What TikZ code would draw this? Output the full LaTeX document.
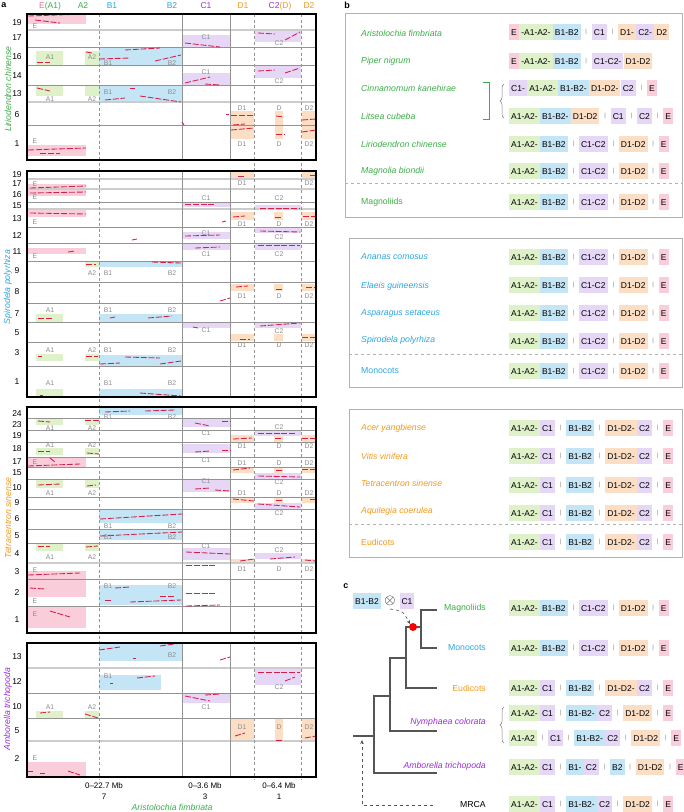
\documentclass[tikz,border=0pt]{standalone}
\usepackage{fontspec}
\setmainfont{Liberation Sans}
\usetikzlibrary{decorations.pathreplacing,arrows.meta}
\definecolor{pk}{RGB}{250,205,218}
\definecolor{gr}{RGB}{222,241,200}
\definecolor{bl}{RGB}{196,229,246}
\definecolor{pu}{RGB}{231,215,247}
\definecolor{og}{RGB}{251,222,196}
\definecolor{tgr}{RGB}{61,174,72}
\definecolor{tbl}{RGB}{43,168,224}
\definecolor{tog}{RGB}{243,154,30}
\definecolor{tpu}{RGB}{154,47,216}
\definecolor{tpk}{RGB}{240,108,150}
\definecolor{syn}{RGB}{214,30,70}
\definecolor{lbl}{RGB}{140,140,140}
\definecolor{trc}{RGB}{85,85,85}
\newcommand\myfs[1]{\fontsize{#1}{#1}\selectfont}
\newcounter{nn}
\newcommand\tx[3][]{\stepcounter{nn}\node[#1] (t\thenn) at (#2) {#3};}
\newcommand\chs[1]{\coordinate (cur) at (#1);}
\newcommand\sg[2]{\node[seg,fill=#1,anchor=west] (cur) at (cur.east) {#2};}
\newcommand\sepr{\node[sepn,anchor=west] (cur) at (cur.east) {|};}
\newcommand\chM{\sg{gr}{A1-A2-}\sg{bl}{B1-B2}\sepr\sg{pu}{C1-C2}\sepr\sg{og}{D1-D2}\sepr\sg{pk}{E}}
\newcommand\chU{\sg{gr}{A1-A2-}\sg{pu}{C1}\sepr\sg{bl}{B1-B2}\sepr\sg{og}{D1-D2-}\sg{pu}{C2}\sepr\sg{pk}{E}}
\newcommand\chN{\sg{gr}{A1-A2-}\sg{pu}{C1}\sepr\sg{bl}{B1-B2-}\sg{pu}{C2}\sepr\sg{og}{D1-D2}\sepr\sg{pk}{E}}
\begin{document}
\begin{tikzpicture}[x=1pt,y=-1pt,
  lab/.style={font=\myfs{6.8}, text=lbl, inner sep=0pt},
  rl/.style={font=\myfs{8.5}, inner sep=0pt},
  hd/.style={font=\myfs{8.5}, inner sep=0pt},
  frm/.style={draw=black, line width=1.1pt},
  rowl/.style={draw=gray!85, line width=0.7pt},
  rowt/.style={draw=gray!40, line width=1.8pt},
  vd/.style={draw=gray!85, dash pattern=on 3pt off 2.5pt, line width=0.7pt},
  vs/.style={draw=gray!85, line width=0.7pt},
  sy/.style={draw=syn, line width=0.85pt, dash pattern=on 6pt off 1.8pt},
  seg/.style={font=\myfs{8.5}, inner xsep=2pt, inner ysep=0pt, minimum height=16pt, text height=6.3pt, text depth=0pt},
  sepn/.style={font=\myfs{6}, text=gray, inner xsep=4.5pt, inner ysep=0pt, minimum height=16pt},
  spn/.style={font=\myfs{8.7}\itshape, anchor=west, inner sep=0pt},
  cln/.style={font=\myfs{8.7}, anchor=west, inner sep=0pt},
  tree/.style={draw=trc, line width=1.3pt},
  bxf/.style={draw=gray!60, line width=0.8pt},
  bxd/.style={draw=gray!60, dashed, line width=0.7pt}]
\fill[white] (0,0) rectangle (684,812);
\useasboundingbox (0,0) rectangle (684,812);
% ================= panel a =================
\tx[font=\myfs{9}\bfseries]{4,5}{a}
\tx[hd]{50,6}{\textcolor{tpk}{E}\textcolor{tgr}{(A1)}}
\tx[hd,text=tgr]{83,6}{A2}
\tx[hd,text=tbl]{112,6}{B1}
\tx[hd,text=tbl]{172,6}{B2}
\tx[hd,text=tpu]{206,6}{C1}
\tx[hd,text=tog]{243,6}{D1}
\tx[hd]{280,6}{\textcolor{tpu}{C2}\textcolor{tog}{(D)}}
\tx[hd,text=tog]{309,6}{D2}
% coloured boxes, block 1
\fill[pk] (27,14) rectangle (86,24);
\fill[pu] (182,35) rectangle (230,47);
\fill[pu] (255,31) rectangle (301,42);
\fill[gr] (36,51) rectangle (63,65);
\fill[gr] (85,51) rectangle (99,65);
\fill[bl] (99,47) rectangle (182,65);
\fill[pu] (182,73) rectangle (230,85);
\fill[pu] (255,66) rectangle (301,78);
\fill[gr] (36,86) rectangle (63,96);
\fill[gr] (85,86) rectangle (99,96);
\fill[bl] (99,85) rectangle (182,102);
\fill[og] (231,111) rectangle (254,139);
\fill[og] (275,111) rectangle (283,139);
\fill[og] (302,111) rectangle (316,139);
\fill[pk] (27,145) rectangle (86,156);
% block 2
\fill[og] (231,171) rectangle (254,179);
\fill[og] (302,171) rectangle (316,179);
\fill[pk] (27,184) rectangle (86,189);
\fill[pk] (27,190) rectangle (86,196);
\fill[pu] (182,202) rectangle (230,207);
\fill[pu] (255,205) rectangle (301,209);
\fill[pk] (27,210) rectangle (86,217);
\fill[og] (231,212) rectangle (254,220);
\fill[og] (274,212) rectangle (283,220);
\fill[og] (302,212) rectangle (316,220);
\fill[pu] (182,232) rectangle (230,239);
\fill[pu] (255,228) rectangle (301,233);
\fill[pu] (182,244) rectangle (230,250);
\fill[pu] (255,244) rectangle (301,250);
\fill[pk] (27,248) rectangle (86,254);
\fill[gr] (85,262) rectangle (99,267);
\fill[bl] (99,261) rectangle (182,267);
\fill[og] (231,284) rectangle (254,291);
\fill[og] (274,284) rectangle (283,291);
\fill[og] (302,284) rectangle (316,291);
\fill[gr] (36,314) rectangle (63,322);
\fill[bl] (99,314) rectangle (182,322);
\fill[pu] (182,323) rectangle (230,328);
\fill[pu] (255,322) rectangle (301,328);
\fill[og] (231,334) rectangle (254,341);
\fill[og] (274,334) rectangle (283,341);
\fill[og] (302,334) rectangle (316,341);
\fill[gr] (36,354) rectangle (63,361);
\fill[gr] (85,354) rectangle (99,361);
\fill[bl] (99,355) rectangle (182,366);
\fill[gr] (36,389) rectangle (63,397);
\fill[bl] (99,389) rectangle (182,397);
% block 3
\fill[bl] (99,407) rectangle (182,415);
\fill[gr] (36,418) rectangle (63,425);
\fill[gr] (85,418) rectangle (99,425);
\fill[pu] (182,418) rectangle (230,427);
\fill[pu] (255,431) rectangle (301,436);
\fill[og] (231,435) rectangle (254,442);
\fill[og] (274,435) rectangle (283,442);
\fill[og] (302,435) rectangle (316,442);
\fill[gr] (36,448) rectangle (63,455);
\fill[gr] (85,448) rectangle (99,455);
\fill[pu] (182,444) rectangle (230,453);
\fill[pk] (27,457) rectangle (86,467);
\fill[og] (231,467) rectangle (254,473);
\fill[og] (274,467) rectangle (283,473);
\fill[og] (302,467) rectangle (316,473);
\fill[pu] (255,473) rectangle (301,479);
\fill[gr] (36,480) rectangle (63,488);
\fill[gr] (85,480) rectangle (99,488);
\fill[pu] (182,480) rectangle (230,492);
\fill[og] (231,497) rectangle (254,503);
\fill[og] (274,497) rectangle (283,503);
\fill[og] (302,497) rectangle (316,503);
\fill[pu] (255,503) rectangle (301,509);
\fill[bl] (99,509) rectangle (182,523);
\fill[bl] (99,529) rectangle (182,540);
\fill[gr] (36,543) rectangle (63,551);
\fill[gr] (85,543) rectangle (99,551);
\fill[pu] (182,548) rectangle (230,560);
\fill[pu] (255,553) rectangle (301,559);
\fill[og] (231,559) rectangle (254,563);
\fill[og] (302,559) rectangle (316,563);
\fill[pk] (27,571) rectangle (86,597);
\fill[bl] (99,585) rectangle (182,605);
\fill[pk] (27,606) rectangle (86,628);
% block 4
\fill[bl] (99,643) rectangle (182,661);
\fill[bl] (99,675) rectangle (161,690);
\fill[pu] (255,669) rectangle (301,685);
\fill[pu] (182,694) rectangle (230,703);
\fill[gr] (36,711) rectangle (63,718);
\fill[gr] (85,711) rectangle (99,718);
\fill[og] (231,718) rectangle (254,741);
\fill[og] (275,718) rectangle (283,741);
\fill[og] (302,718) rectangle (316,741);
\fill[pk] (27,762) rectangle (86,776);
% row lines
\foreach \yy in {47,65,85,125,202,227,243,261,282,303,322,342,366,418,430,442,457,467,479,497,509,529,543,579,606,693,718}
  \draw[rowl] (27,\yy) -- (316,\yy);
\foreach \yy in {30,102,179,189,209,563,668,741}
  \draw[rowt] (27,\yy) -- (316,\yy);
% vertical lines
\foreach \xx in {99,254,301} \draw[vd] (\xx,14) -- (\xx,779);
\foreach \a/\b in {14/160,171/397,407/633,643/777} {
  \draw[vs] (182,\a) -- (182,\b);
  \draw[vs] (230,\a) -- (230,\b);
}
% synteny dashes
\foreach \a/\b/\c/\d in {
 28/16/86/14, 35/20/60/23,
 185/43/220/47, 258/33/275/34, 285/40/300/32,
 37/62/50/62, 86/52/92/53, 99/59/130/58, 125/50/160/48, 155/61/181/55,
 185/83/210/77, 205/84/220/85, 258/71/275/70, 285/73/300/68,
 37/88/50/91, 105/100/125/98, 130/88/135/88, 140/96/181/102,
 231/115/254/115, 231/130/254/128, 233/125/245/124, 276/116/284/117, 276/134/284/134,
 302/120/316/119, 302/132/316/130, 182/122/184/125, 226/114/229/114,
 28/150/86/148, 40/153/60/153,
 238/176/245/176, 310/175/316/175,
 30/188/86/186, 30/193/86/192,
 185/204/215/204, 260/208/300/208,
 30/213/86/214, 233/217/245/216, 275/217/282/217, 303/216/316/216, 222/222/226/221,
 185/236/220/235, 260/231/300/232, 132/240/137/239,
 195/248/220/247, 258/245/300/245, 68/252/75/251,
 86/264/96/264, 152/262/181/263,
 236/287/248/286, 276/289/282/289, 306/287/316/287, 220/301/230/298,
 38/318/52/318, 110/318/115/317, 148/318/172/316,
 193/327/198/328, 260/326/300/323, 240/339/250/339, 302/337/316/337,
 38/356/42/356, 86/356/98/356, 100/364/120/363, 125/357/160/358, 160/364/181/361,
 40/395/43/395, 140/393/181/396,
 105/412/130/411, 145/411/175/410,
 38/421/50/422, 85/420/99/420, 195/423/210/426, 222/421/230/421,
 233/439/252/438, 258/433/295/433, 275/438/282/438, 302/438/316/438,
 38/451/50/451, 87/453/99/454, 195/452/210/451, 222/450/230/450,
 28/466/80/464, 50/458/55/462,
 233/470/250/468, 258/476/300/477, 276/470/282/470, 302/469/316/469,
 38/485/60/484, 87/486/96/485, 195/489/210/488, 215/490/230/491,
 233/499/254/501, 258/504/300/507, 276/500/282/500, 310/499/316/499,
 100/519/182/514, 100/536/182/532,
 38/546/50/546, 86/547/98/546, 186/552/230/554, 270/559/295/557, 240/561/254/559, 305/560/316/561,
 186/565/215/565, 28/575/80/573,
 30/588/45/589, 115/588/130/587, 130/602/181/600, 105/600/112/600, 160/596/175/596, 186/593/215/593,
 50/611/70/617, 186/606/220/605,
 99/650/120/647, 160/646/181/643, 133/658/136/658, 220/660/230/657,
 137/678/155/676, 110/683/113/683, 258/672/300/672, 285/681/295/677,
 185/696/210/701, 205/695/220/694,
 40/713/50/712, 85/714/98/718,
 235/736/245/733, 276/740/283/740, 305/738/316/736,
 28/771/33/771, 68/771/80/775, 40/773/45/773}
  \draw[sy] (\a,\b) -- (\c,\d);
% block frames
\draw[frm] (27,14) rectangle (316,160);
\draw[frm] (27,171) rectangle (316,397);
\draw[frm] (27,407) rectangle (316,633);
\draw[frm] (27,643) rectangle (316,777);
% box labels
\foreach \xx/\yy/\s in {35/26/E, 206/37/C1, 279/43/C2, 50/57/A1, 92/57/A2, 108/63/B1, 172/63/B2,
 206/72/C1, 279/81/C2, 50/99/A1, 92/99/A2, 108/92/B1, 172/92/B2,
 242/108/D1, 279/108/D, 309/108/D2, 242/144/D1, 279/144/D, 309/144/D2, 35/141/E,
 242/183/D1, 309/183/D2, 35/184/E, 35/197/E, 206/198/C1, 279/198/C2,
 35/222/E, 242/224/D1, 279/224/D, 309/224/D2, 206/233/C1, 279/237/C2,
 206/254/C1, 279/254/C2, 35/256/E, 92/273/A2, 108/273/B1, 172/273/B2,
 242/296/D1, 279/296/D, 309/296/D2, 50/310/A1, 108/310/B1, 172/310/B2,
 206/330/C1, 279/331/C2, 242/345/D1, 279/345/D, 309/345/D2,
 50/350/A1, 92/350/A2, 108/350/B1, 172/350/B2, 50/383/A1, 108/383/B1, 172/383/B2,
 108/417/B1, 172/417/B2, 50/428/A1, 92/428/A2, 279/427/C2, 206/433/C1,
 242/446/D1, 279/446/D, 309/446/D2, 50/445/A1, 92/445/A2, 206/460/C1, 35/462/E,
 242/463/D1, 279/463/D, 309/463/D2, 279/482/C2, 206/481/C1, 50/493/A1, 92/493/A2,
 242/493/D1, 279/493/D, 309/493/D2, 279/513/C2, 108/526/B1, 172/526/B2,
 108/537/B1, 172/537/B2, 206/546/C1, 279/550/C2, 50/557/A1, 92/557/A2,
 242/569/D1, 279/569/D, 309/569/D2, 35/570/E, 35/601/E, 35/614/E, 108/586/B1, 172/586/B2,
 172/655/B2, 108/676/B1, 279/687/C2, 206/707/C1, 50/707/A1, 92/707/A2,
 242/727/D1, 279/727/D, 309/727/D2, 35/758/E}
  {\tx[lab]{\xx,\yy}{\s}}
% row numbers
\foreach \yy/\s in {23/19,38/17,57/16,76/14,94/13,115/6,144/1,
 175/19,184/17,195/16,206/15,219/13,236/12,252/11,271/9,292/8,314/7,333/5,353/3,382/1,
 414/24,425/23,436/19,449/18,462/17,473/15,488/10,503/9,519/6,536/5,554/4,572/3,593/2,620/1,
 657/13,682/12,707/10,731/5,759/2}
  {\tx[rl]{17,\yy}{\s}}
% species (rotated)
\tx[rotate=90,font=\myfs{8.7}\itshape,text=tgr]{8,89}{Liriodendron chinense}
\tx[rotate=90,font=\myfs{8.7}\itshape,text=tbl]{8,287}{Spirodela polyrhiza}
\tx[rotate=90,font=\myfs{8.7}\itshape,text=tog]{8,518}{Tetracentron sinense}
\tx[rotate=90,font=\myfs{8.7}\itshape,text=tpu]{8,709}{Amborella trichopoda}
% bottom axis labels
\tx[font=\myfs{8}]{104,786}{0–22.7 Mb}
\tx[font=\myfs{8}]{104,797}{7}
\tx[font=\myfs{8}]{205,786}{0–3.6 Mb}
\tx[font=\myfs{8}]{205,797}{3}
\tx[font=\myfs{8}]{279,786}{0–6.4 Mb}
\tx[font=\myfs{8}]{279,797}{1}
\tx[font=\myfs{8.7}\itshape,text=tgr]{172,807}{Aristolochia fimbriata}
% ================= panel b =================
\tx[font=\myfs{9}\bfseries]{347,5}{b}
\draw[bxf] (345,13) rectangle (682,217);
\draw[bxd] (345,183) -- (682,183);
\draw[bxf] (349,238) rectangle (682,387);
\draw[bxd] (349,354) -- (682,354);
\draw[bxf] (349,409) rectangle (682,557);
\draw[bxd] (349,524) -- (682,524);
\tx[spn,text=tgr]{361,33}{Aristolochia fimbriata}
\tx[spn,text=tgr]{361,61}{Piper nigrum}
\tx[spn,text=tgr]{361,88}{Cinnamomum kanehirae}
\tx[spn,text=tgr]{361,116}{Litsea cubeba}
\tx[spn,text=tgr]{361,144}{Liriodendron chinense}
\tx[spn,text=tgr]{361,171}{Magnolia biondii}
\tx[cln,text=tgr]{361,202}{Magnoliids}
\tx[spn,text=tbl]{361,257}{Ananas comosus}
\tx[spn,text=tbl]{361,286}{Elaeis guineensis}
\tx[spn,text=tbl]{361,313}{Asparagus setaceus}
\tx[spn,text=tbl]{361,340}{Spirodela polyrhiza}
\tx[cln,text=tbl]{361,371}{Monocots}
\tx[spn,text=tog]{361,428}{Acer yangbiense}
\tx[spn,text=tog]{361,456}{Vitis vinifera}
\tx[spn,text=tog]{361,483}{Tetracentron sinense}
\tx[spn,text=tog]{361,511}{Aquilegia coerulea}
\tx[cln,text=tog]{361,542}{Eudicots}
\draw[tgr, line width=1pt] (483,82) -- (489,82) -- (489,119) -- (483,119);
\draw[gray, line width=0.5pt, decorate, decoration={brace, amplitude=4pt}] (504,118) -- (504,84);
% chains b
\chs{509,32}\sg{pk}{E}\sg{gr}{-A1-A2-}\sg{bl}{B1-B2}\sepr\sg{pu}{C1}\sepr\sg{og}{D1-}\sg{pu}{C2-}\sg{og}{D2}
\chs{509,61}\sg{pk}{E}\sg{gr}{-A1-A2-}\sg{bl}{B1-B2}\sepr\sg{pu}{C1-C2-}\sg{og}{D1-D2}
\chs{509,88}\sg{pu}{C1-}\sg{gr}{A1-A2-}\sg{bl}{B1-B2-}\sg{og}{D1-D2-}\sg{pu}{C2}\sepr\sg{pk}{E}
\chs{509,116}\sg{gr}{A1-A2-}\sg{bl}{B1-B2-}\sg{og}{D1-D2}\sepr\sg{pu}{C1}\sepr\sg{pu}{C2}\sepr\sg{pk}{E}
\chs{509,144}\chM
\chs{509,171}\chM
\chs{509,202}\chM
\chs{509,257}\chM
\chs{509,285}\chM
\chs{509,313}\chM
\chs{509,341}\chM
\chs{509,371}\chM
\chs{509,428}\chU
\chs{509,456}\chU
\chs{509,485}\chU
\chs{509,513}\chU
\chs{509,542}\chU
% ================= panel c =================
\tx[font=\myfs{9}\bfseries]{346,586}{c}
\node[seg,fill=bl] (bb) at (367,601) {B1-B2};
\node[inner sep=0pt, font=\myfs{14}] (ot) at (390,601) {$\otimes$};
\node[seg,fill=pu] (cc) at (407,601) {C1};
\draw[tree] (437,610) -- (421,610) -- (421,648) -- (437,648);
\draw[tree] (421,627) -- (406,627) -- (406,688) -- (437,688);
\draw[tree] (406,658) -- (390,658) -- (390,731) -- (437,731);
\draw[tree] (390,696) -- (374,696) -- (374,773) -- (437,773);
\draw[tree] (353,736) -- (374,736);
\node[circle, fill=red, minimum size=8pt, inner sep=0pt] (rd) at (413,627) {};
\draw[trc, dashed, line width=0.6pt, -{Stealth[length=4pt,width=3.5pt]}] (390,609) .. controls (403,611) .. (rd.north west);
\coordinate (mr) at (433,805);
\coordinate (mc) at (362,805);
\coordinate (ma) at (362,740);
\draw[trc, dashed, line width=0.6pt, -{Stealth[length=4pt,width=3.5pt]}] (mr) -- (mc) -- (ma);
\tx[cln,anchor=east,text=tgr]{486,608}{Magnoliids}
\tx[cln,anchor=east,text=tbl]{486,648}{Monocots}
\tx[cln,anchor=east,text=tog]{486,688}{Eudicots}
\tx[spn,anchor=east,text=tpu]{486,722}{Nymphaea colorata}
\tx[spn,anchor=east,text=tpu]{486,766}{Amborella trichopoda}
\tx[cln,anchor=east]{486,804}{MRCA}
\draw[gray, line width=0.5pt, decorate, decoration={brace, amplitude=4pt}] (504,743) -- (504,707);
\chs{509,608}\chM
\chs{509,648}\chM
\chs{509,688}\chU
\chs{509,713}\chN
\chs{509,738}\sg{gr}{A1-A2}\sepr\sg{pu}{C1}\sepr\sg{bl}{B1-B2-}\sg{pu}{C2}\sepr\sg{og}{D1-D2}\sepr\sg{pk}{E}
\chs{509,767}\sg{gr}{A1-A2-}\sg{pu}{C1}\sepr\sg{bl}{B1-}\sg{pu}{C2}\sepr\sg{bl}{B2}\sepr\sg{og}{D1-D2}\sepr\sg{pk}{E}
\chs{509,804}\chN
\end{tikzpicture}
\end{document}
